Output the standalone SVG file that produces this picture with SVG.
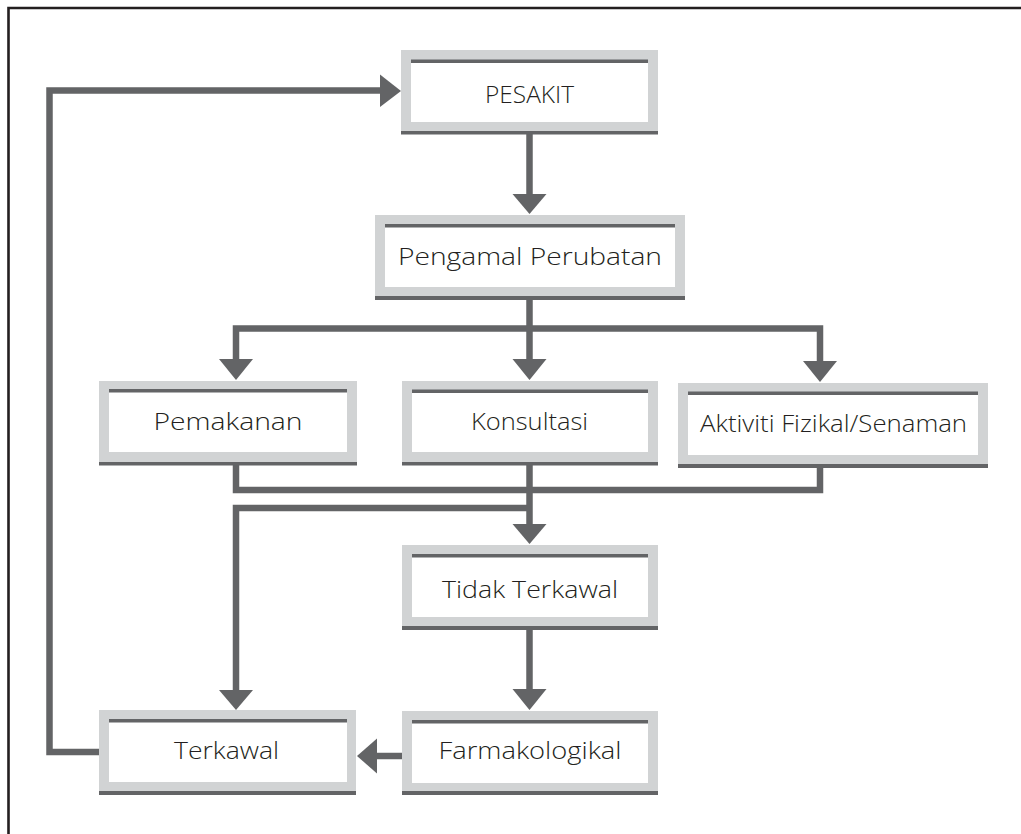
<svg xmlns="http://www.w3.org/2000/svg" width="1021" height="834" viewBox="0 0 1021 834">
<defs>
<style>
.outer{fill:#d1d3d4}
.dark{fill:#636466}
.inner{fill:#ffffff}
.lbl{font-family:"Open Sans","Liberation Sans",Arial,sans-serif;font-weight:300;font-size:24px;fill:#231f20;text-anchor:middle}
.conn{fill:none;stroke:#636466;stroke-width:6.5;stroke-linejoin:miter;stroke-linecap:butt}
.head{fill:#636466}
</style>
</defs>
<rect x="0" y="0" width="1021" height="834" fill="#ffffff"/>
<path d="M8.5 834 V8 H1021" fill="none" stroke="#231f20" stroke-width="2.6"/>

<g id="connectors">
<path class="conn" d="M529.5 134 V196"/>
<polygon class="head" points="512.5,194 546.5,194 529.5,214"/>
<path class="conn" d="M529.5 300 V361"/>
<path class="conn" d="M236 361 V328.5 H820 V361"/>
<polygon class="head" points="219,359 253,359 236,380"/>
<polygon class="head" points="512.5,359 546.5,359 529.5,380"/>
<polygon class="head" points="803,361 837,361 820,382"/>
<path class="conn" d="M236 465 V490 H820 V467"/>
<path class="conn" d="M529.5 465 V526"/>
<polygon class="head" points="512.5,524 546.5,524 529.5,544"/>
<path class="conn" d="M529.5 508 H236 V692"/>
<polygon class="head" points="219,690 253,690 236,710"/>
<path class="conn" d="M529.5 630 V691"/>
<polygon class="head" points="512.5,689 546.5,689 529.5,710"/>
<path class="conn" d="M402 756 H375"/>
<polygon class="head" points="377,738.5 377,773.5 357,756"/>
<path class="conn" d="M99 752 H49.5 V90.5 H382"/>
<polygon class="head" points="380,74.5 380,107 401,91"/>
</g>

<g id="node-pesakit">
<rect class="outer" x="401" y="50" width="257" height="81"/>
<rect class="dark" x="401" y="131" width="257" height="3.5"/>
<rect class="inner" x="411" y="60" width="237" height="62"/>
<rect class="dark" x="411" y="59.5" width="237" height="3.5"/>
<text class="lbl" x="529.5" y="103" textLength="89" lengthAdjust="spacingAndGlyphs">PESAKIT</text>
</g>

<g id="node-pengamal">
<rect class="outer" x="375" y="215" width="310" height="81"/>
<rect class="dark" x="375" y="296" width="310" height="4"/>
<rect class="inner" x="385" y="224.5" width="290" height="62.5"/>
<rect class="dark" x="385" y="224" width="290" height="3.5"/>
<text class="lbl" x="530" y="265" textLength="264" lengthAdjust="spacingAndGlyphs">Pengamal Perubatan</text>
</g>

<g id="node-pemakanan">
<rect class="outer" x="99" y="381" width="258" height="81"/>
<rect class="dark" x="99" y="462" width="258" height="3.5"/>
<rect class="inner" x="109" y="389.5" width="238" height="62.5"/>
<rect class="dark" x="109" y="389" width="238" height="3.5"/>
<text class="lbl" x="228" y="429.5" textLength="149" lengthAdjust="spacingAndGlyphs">Pemakanan</text>
</g>

<g id="node-konsultasi">
<rect class="outer" x="402" y="381" width="256" height="81"/>
<rect class="dark" x="402" y="462" width="256" height="3.5"/>
<rect class="inner" x="412" y="390" width="236" height="62"/>
<rect class="dark" x="412" y="389.5" width="236" height="3.5"/>
<text class="lbl" x="529.5" y="430" textLength="117" lengthAdjust="spacingAndGlyphs">Konsultasi</text>
</g>

<g id="node-aktiviti">
<rect class="outer" x="678" y="383" width="310" height="81"/>
<rect class="dark" x="678" y="464" width="310" height="4"/>
<rect class="inner" x="688" y="392" width="290" height="63"/>
<rect class="dark" x="688" y="391.5" width="290" height="3.5"/>
<text class="lbl" x="833.5" y="431.5" textLength="267" lengthAdjust="spacingAndGlyphs">Aktiviti Fizikal/Senaman</text>
</g>

<g id="node-tidak-terkawal">
<rect class="outer" x="402" y="545" width="256" height="81"/>
<rect class="dark" x="402" y="626" width="256" height="4"/>
<rect class="inner" x="412" y="554.5" width="236" height="62.5"/>
<rect class="dark" x="412" y="554" width="236" height="3.5"/>
<text class="lbl" x="530" y="597.5" textLength="176" lengthAdjust="spacingAndGlyphs">Tidak Terkawal</text>
</g>

<g id="node-farmakologikal">
<rect class="outer" x="402" y="711" width="256" height="80"/>
<rect class="dark" x="402" y="791" width="256" height="4"/>
<rect class="inner" x="412" y="720.5" width="236" height="62.5"/>
<rect class="dark" x="412" y="720" width="236" height="3.5"/>
<text class="lbl" x="530" y="759" textLength="183" lengthAdjust="spacingAndGlyphs">Farmakologikal</text>
</g>

<g id="node-terkawal">
<rect class="outer" x="99" y="710" width="257" height="81"/>
<rect class="dark" x="99" y="791" width="257" height="4"/>
<rect class="inner" x="109" y="719.5" width="238" height="62.5"/>
<rect class="dark" x="109" y="719" width="238" height="3.5"/>
<text class="lbl" x="226.5" y="759" textLength="105" lengthAdjust="spacingAndGlyphs">Terkawal</text>
</g>
</svg>
